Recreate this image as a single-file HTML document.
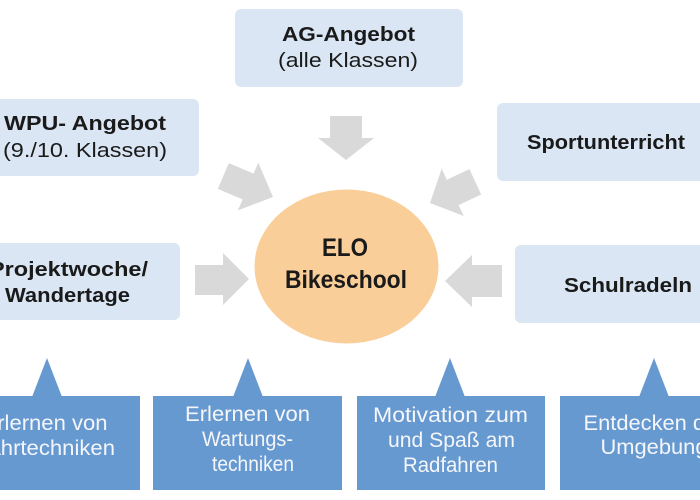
<!DOCTYPE html>
<html>
<head>
<meta charset="utf-8">
<style>
  html,body{margin:0;padding:0;background:#fff;}
  svg{display:block;}
  .b{font-family:"Liberation Sans",Arial,sans-serif;font-weight:bold;fill:#1a1a1a;}
  .r{font-family:"Liberation Sans",Arial,sans-serif;fill:#1a1a1a;}
  .w{font-family:"Liberation Sans",Arial,sans-serif;fill:#f4f6fa;}
</style>
</head>
<body>
<svg width="700" height="500" viewBox="0 0 700 500" xmlns="http://www.w3.org/2000/svg">
  <rect x="0" y="0" width="700" height="500" fill="#ffffff"/>

  <!-- top boxes -->
  <g fill="#dae6f3">
    <rect x="235" y="9" width="228" height="78" rx="6"/>
    <rect x="-29" y="99" width="228" height="77" rx="6"/>
    <rect x="497" y="103" width="228" height="78" rx="6"/>
    <rect x="-48" y="243" width="228" height="77" rx="6"/>
    <rect x="515" y="245" width="228" height="78" rx="6"/>
  </g>

  <!-- arrows -->
  <g fill="#d9d9d9">
    <polygon points="330,116 362,116 362,138 374,138 346,160 318,138 330,138"/>
    <polygon points="195,265 223,265 223,253 249,279 223,305 223,295 195,295"/>
    <polygon points="502,265 472,265 472,255 445,281 472,307 472,297 502,297"/>
    <polygon points="228.8,163.1 253.6,173.6 258.3,162.6 273,197 237.9,210.4 242.6,199.4 217.8,188.9"/>
    <polygon points="469.4,169.1 446.8,179.7 441.7,168.8 430,203 463.7,216 458.6,205.1 481.2,194.5"/>
  </g>

  <!-- center ellipse -->
  <ellipse cx="346.5" cy="266.5" rx="92" ry="77" fill="#f9ce98"/>

  <!-- callouts -->
  <g fill="#6799d1">
    <rect x="-48" y="396" width="188" height="94"/>
    <polygon points="32,397 47,358 62,397"/>
    <rect x="153" y="396" width="189" height="94"/>
    <polygon points="233,397 248,358 263,397"/>
    <rect x="357" y="396" width="188" height="94"/>
    <polygon points="435,397 450,358 465,397"/>
    <rect x="560" y="396" width="189" height="94"/>
    <polygon points="639,397 654,358 669,397"/>
  </g>

  <!-- top box texts -->
  <text class="b" x="348.5" y="41" font-size="20" text-anchor="middle" textLength="133" lengthAdjust="spacingAndGlyphs">AG-Angebot</text>
  <text class="r" x="348" y="67" font-size="20" text-anchor="middle" textLength="140" lengthAdjust="spacingAndGlyphs">(alle Klassen)</text>

  <text class="b" x="85" y="130" font-size="20" text-anchor="middle" textLength="162" lengthAdjust="spacingAndGlyphs">WPU- Angebot</text>
  <text class="r" x="85" y="157" font-size="20" text-anchor="middle" textLength="164" lengthAdjust="spacingAndGlyphs">(9./10. Klassen)</text>

  <text class="b" x="606" y="149" font-size="20" text-anchor="middle" textLength="158" lengthAdjust="spacingAndGlyphs">Sportunterricht</text>

  <text class="b" x="68.5" y="276" font-size="20" text-anchor="middle" textLength="159" lengthAdjust="spacingAndGlyphs">Projektwoche/</text>
  <text class="b" x="67.5" y="302" font-size="20" text-anchor="middle" textLength="125" lengthAdjust="spacingAndGlyphs">Wandertage</text>

  <text class="b" x="628" y="292" font-size="20" text-anchor="middle" textLength="128" lengthAdjust="spacingAndGlyphs">Schulradeln</text>

  <!-- center text -->
  <text class="b" x="345" y="256" font-size="25" text-anchor="middle" textLength="46" lengthAdjust="spacingAndGlyphs">ELO</text>
  <text class="b" x="346" y="288" font-size="25" text-anchor="middle" textLength="122" lengthAdjust="spacingAndGlyphs">Bikeschool</text>

  <!-- callout texts -->
  <text class="w" x="45" y="430" font-size="21.5" text-anchor="middle" textLength="125" lengthAdjust="spacingAndGlyphs">Erlernen von</text>
  <text class="w" x="45" y="455" font-size="21.5" text-anchor="middle" textLength="140" lengthAdjust="spacingAndGlyphs">Fahrtechniken</text>

  <text class="w" x="247.5" y="421" font-size="21.5" text-anchor="middle" textLength="125" lengthAdjust="spacingAndGlyphs">Erlernen von</text>
  <text class="w" x="247.5" y="446" font-size="21.5" text-anchor="middle" textLength="91" lengthAdjust="spacingAndGlyphs">Wartungs-</text>
  <text class="w" x="253" y="471" font-size="21.5" text-anchor="middle" textLength="82" lengthAdjust="spacingAndGlyphs">techniken</text>

  <text class="w" x="450.5" y="422" font-size="21.5" text-anchor="middle" textLength="155" lengthAdjust="spacingAndGlyphs">Motivation zum</text>
  <text class="w" x="451.5" y="447" font-size="21.5" text-anchor="middle" textLength="127" lengthAdjust="spacingAndGlyphs">und Spaß am</text>
  <text class="w" x="450.5" y="472" font-size="21.5" text-anchor="middle" textLength="95" lengthAdjust="spacingAndGlyphs">Radfahren</text>

  <text class="w" x="654" y="430" font-size="21.5" text-anchor="middle" textLength="141" lengthAdjust="spacingAndGlyphs">Entdecken der</text>
  <text class="w" x="654" y="454" font-size="21.5" text-anchor="middle" textLength="107" lengthAdjust="spacingAndGlyphs">Umgebung</text>
</svg>
</body>
</html>
